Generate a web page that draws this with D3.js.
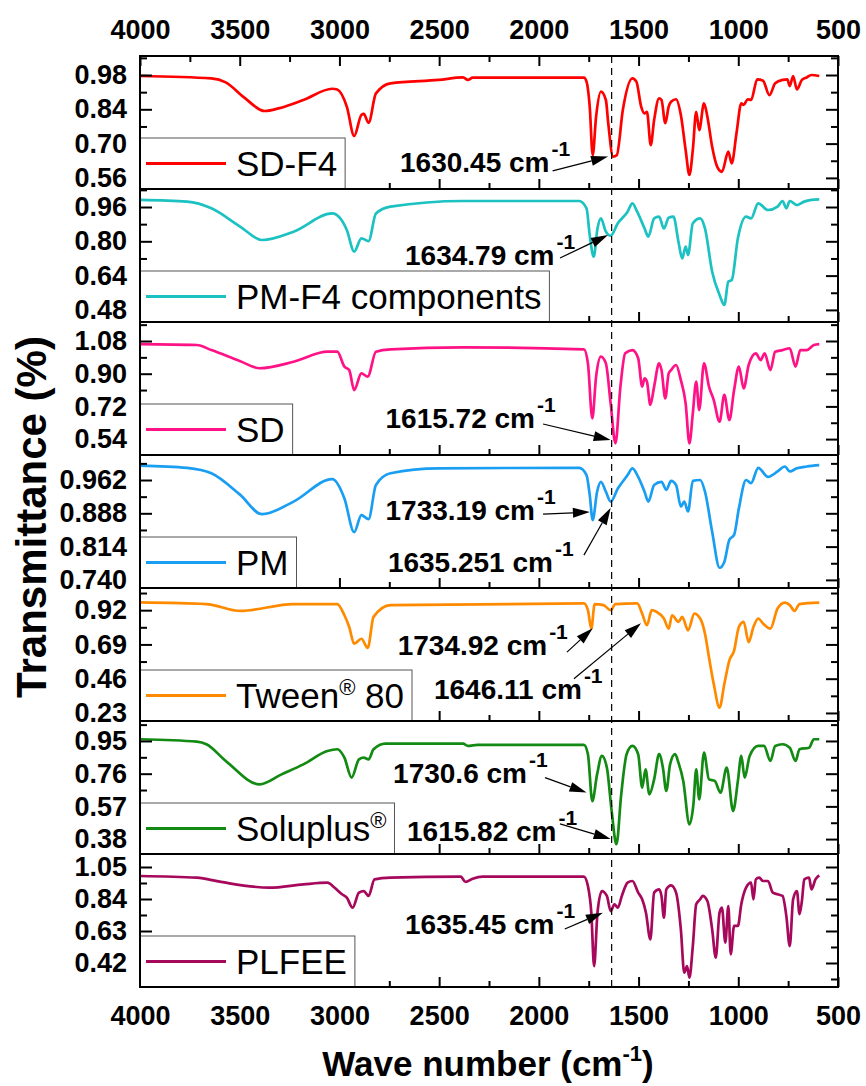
<!DOCTYPE html>
<html><head><meta charset="utf-8">
<script src="https://cdn.jsdelivr.net/npm/d3@7"></script>
<style>body{margin:0;background:#fff} svg{display:block}</style>
</head><body><svg id="c" width="866" height="1086"></svg>
<script>
// ---------------- DATA ----------------
const seriesNames = ["SD-F4", "PM-F4 components", "SD", "PM", "Tween|®| 80", "Soluplus|®|", "PLFEE"];
const seriesColors = ["#ff0000", "#1cc1c1", "#ff1286", "#1a9ef2", "#ff8a00", "#138a13", "#a6085c"];
const xTickValues = [4000, 3500, 3000, 2500, 2000, 1500, 1000, 500];
const yTickValues = [
  [0.98, 0.84, 0.70, 0.56],
  [0.96, 0.80, 0.64, 0.48],
  [1.08, 0.90, 0.72, 0.54],
  [0.962, 0.888, 0.814, 0.740],
  [0.92, 0.69, 0.46, 0.23],
  [0.95, 0.76, 0.57, 0.38],
  [1.05, 0.84, 0.63, 0.42]
];
const yTickLabels = [
  ["0.98", "0.84", "0.70", "0.56"],
  ["0.96", "0.80", "0.64", "0.48"],
  ["1.08", "0.90", "0.72", "0.54"],
  ["0.962", "0.888", "0.814", "0.740"],
  ["0.92", "0.69", "0.46", "0.23"],
  ["0.95", "0.76", "0.57", "0.38"],
  ["1.05", "0.84", "0.63", "0.42"]
];
// [wavenumber (cm-1), transmittance]
const sdF4 = [[4000,0.976],[3642,0.966],[3570,0.95],[3480,0.89],[3375,0.833],[3300,0.845],[3181,0.878],[3036,0.924],[3011,0.921],[2963,0.851],[2926,0.731],[2890,0.817],[2878,0.821],[2854,0.785],[2817,0.905],[2744,0.946],[2502,0.96],[2380,0.97],[2356,0.96],[2332,0.969],[1774,0.969],[1761,0.953],[1745,0.851],[1730,0.653],[1713,0.81],[1689,0.912],[1664,0.878],[1652,0.783],[1628,0.647],[1609,0.653],[1579,0.837],[1531,0.966],[1511,0.953],[1487,0.851],[1470,0.823],[1458,0.83],[1439,0.694],[1422,0.796],[1397,0.885],[1385,0.878],[1366,0.783],[1349,0.851],[1337,0.871],[1312,0.881],[1288,0.817],[1264,0.674],[1245,0.572],[1228,0.674],[1211,0.83],[1196,0.755],[1172,0.864],[1155,0.81],[1131,0.687],[1106,0.606],[1082,0.585],[1050,0.667],[1033,0.619],[1009,0.742],[985,0.864],[973,0.858],[953,0.881],[936,0.878],[905,0.962],[876,0.957],[844,0.898],[815,0.946],[778,0.96],[754,0.962],[742,0.935],[725,0.976],[706,0.921],[681,0.96],[657,0.97],[633,0.98],[594,0.976]];
const pmF4 = [[4000,0.993],[3764,0.985],[3642,0.954],[3500,0.87],[3388,0.806],[3230,0.845],[3036,0.93],[2963,0.853],[2926,0.752],[2890,0.814],[2854,0.801],[2817,0.93],[2744,0.962],[2380,0.988],[1798,0.988],[1761,0.954],[1745,0.829],[1725,0.728],[1706,0.86],[1689,0.907],[1664,0.845],[1640,0.826],[1604,0.884],[1555,0.938],[1531,0.977],[1507,0.938],[1470,0.86],[1451,0.822],[1422,0.907],[1397,0.915],[1373,0.86],[1349,0.91],[1325,0.915],[1300,0.798],[1281,0.72],[1264,0.775],[1252,0.736],[1228,0.884],[1191,0.907],[1167,0.86],[1131,0.658],[1094,0.55],[1070,0.503],[1050,0.612],[1033,0.619],[1002,0.814],[961,0.915],[936,0.907],[900,0.977],[851,0.946],[803,0.962],[778,0.988],[759,0.954],[742,0.988],[706,0.969],[669,0.985],[633,0.993],[594,0.996]];
const sd = [[4000,1.063],[3715,1.058],[3642,1.03],[3500,0.97],[3400,0.93],[3230,0.966],[3060,1.021],[3011,1.021],[2975,0.939],[2951,0.92],[2926,0.81],[2890,0.902],[2858,0.884],[2817,1.021],[2744,1.034],[2380,1.045],[1774,1.034],[1754,0.957],[1732,0.654],[1713,0.884],[1689,0.994],[1664,0.957],[1640,0.737],[1616,0.517],[1591,0.829],[1567,1.012],[1531,1.03],[1502,0.985],[1482,0.829],[1470,0.874],[1458,0.856],[1441,0.728],[1422,0.829],[1397,0.957],[1385,0.92],[1366,0.764],[1349,0.902],[1337,0.92],[1312,0.948],[1288,0.865],[1264,0.737],[1245,0.517],[1228,0.682],[1211,0.856],[1196,0.70],[1172,0.957],[1147,0.829],[1123,0.755],[1094,0.636],[1070,0.783],[1045,0.645],[1021,0.81],[997,0.939],[973,0.819],[948,0.948],[912,1.012],[888,0.975],[868,1.012],[839,0.92],[815,1.021],[778,1.03],[742,1.04],[713,0.939],[689,1.03],[657,1.03],[621,1.058],[594,1.063]];
const pm = [[4000,0.994],[3764,0.989],[3642,0.977],[3500,0.93],[3388,0.886],[3230,0.914],[3036,0.964],[2975,0.921],[2926,0.846],[2890,0.884],[2854,0.875],[2817,0.951],[2744,0.977],[2502,0.988],[1798,0.989],[1761,0.973],[1745,0.929],[1730,0.873],[1708,0.936],[1689,0.958],[1664,0.936],[1640,0.914],[1604,0.943],[1555,0.973],[1531,0.988],[1502,0.969],[1470,0.936],[1451,0.914],[1422,0.951],[1385,0.958],[1361,0.94],[1337,0.96],[1312,0.951],[1288,0.903],[1271,0.914],[1252,0.892],[1228,0.96],[1191,0.962],[1167,0.936],[1131,0.847],[1094,0.767],[1070,0.78],[1045,0.829],[1021,0.84],[997,0.899],[961,0.962],[936,0.955],[900,0.989],[851,0.969],[803,0.981],[766,0.992],[742,0.981],[706,0.988],[657,0.992],[594,0.995]];
const tween = [[4000,0.972],[3667,0.961],[3497,0.915],[3230,0.961],[3011,0.961],[2975,0.886],[2951,0.807],[2926,0.695],[2890,0.728],[2858,0.667],[2829,0.875],[2744,0.954],[1774,0.965],[1754,0.92],[1737,0.796],[1720,0.961],[1676,0.954],[1640,0.92],[1616,0.961],[1507,0.965],[1482,0.897],[1458,0.819],[1434,0.92],[1410,0.909],[1373,0.864],[1349,0.796],[1332,0.886],[1300,0.841],[1281,0.875],[1252,0.785],[1220,0.897],[1191,0.864],[1167,0.762],[1147,0.604],[1123,0.424],[1094,0.266],[1070,0.424],[1045,0.582],[1021,0.649],[997,0.807],[973,0.841],[948,0.706],[924,0.807],[900,0.864],[876,0.83],[839,0.796],[803,0.931],[766,0.97],[742,0.954],[718,0.915],[693,0.961],[594,0.97]];
const soluplus = [[4000,0.96],[3715,0.946],[3667,0.931],[3570,0.834],[3400,0.698],[3290,0.756],[3181,0.814],[3060,0.892],[3011,0.902],[2975,0.853],[2939,0.737],[2902,0.843],[2878,0.853],[2854,0.843],[2829,0.902],[2769,0.935],[2380,0.935],[2356,0.921],[2308,0.927],[1774,0.927],[1754,0.873],[1732,0.601],[1708,0.756],[1684,0.863],[1659,0.795],[1635,0.543],[1611,0.35],[1587,0.64],[1560,0.873],[1531,0.921],[1502,0.873],[1482,0.679],[1465,0.785],[1446,0.64],[1422,0.727],[1397,0.873],[1378,0.795],[1361,0.66],[1342,0.814],[1317,0.873],[1300,0.824],[1276,0.718],[1245,0.466],[1225,0.582],[1211,0.785],[1196,0.611],[1172,0.882],[1147,0.727],[1118,0.718],[1089,0.65],[1058,0.795],[1026,0.543],[1002,0.718],[985,0.863],[968,0.737],[943,0.863],[900,0.921],[871,0.921],[839,0.834],[815,0.921],[778,0.931],[742,0.911],[713,0.834],[693,0.902],[645,0.911],[621,0.96],[594,0.96]];
const plfee = [[4000,0.991],[3715,0.98],[3594,0.952],[3351,0.914],[3181,0.936],[3060,0.947],[3024,0.914],[2987,0.871],[2963,0.849],[2934,0.783],[2902,0.882],[2878,0.892],[2854,0.86],[2824,0.969],[2744,0.98],[2392,0.987],[2368,0.952],[2332,0.973],[2283,0.987],[1774,0.987],[1754,0.925],[1737,0.75],[1723,0.40],[1706,0.75],[1684,0.892],[1659,0.86],[1640,0.761],[1621,0.805],[1604,0.783],[1584,0.86],[1555,0.947],[1531,0.958],[1502,0.882],[1482,0.838],[1463,0.75],[1441,0.575],[1422,0.882],[1397,0.903],[1385,0.86],[1373,0.717],[1361,0.903],[1337,0.93],[1312,0.882],[1288,0.641],[1271,0.356],[1257,0.40],[1245,0.324],[1228,0.531],[1211,0.805],[1191,0.838],[1179,0.86],[1155,0.827],[1131,0.641],[1113,0.455],[1094,0.75],[1082,0.783],[1065,0.553],[1050,0.794],[1038,0.477],[1021,0.663],[1002,0.663],[985,0.805],[961,0.914],[936,0.947],[924,0.838],[912,0.969],[895,0.98],[876,0.958],[851,0.958],[827,0.882],[803,0.871],[778,0.86],[759,0.728],[742,0.531],[725,0.838],[706,0.892],[693,0.741],[681,0.827],[669,0.969],[645,0.98],[633,0.903],[613,0.969],[594,0.995]];
const markerWave = 1635;
// annotations: panel index, label, text start [wave, value], arrow start, arrow tip
const annotPanels = [0, 1, 2, 3, 3, 4, 4, 5, 5, 6];
const annotLabels = ["1630.45 cm", "1634.79 cm", "1615.72 cm", "1733.19 cm", "1635.251 cm", "1734.92 cm", "1646.11 cm", "1730.6 cm", "1615.82 cm", "1635.45 cm"];
const annotText  = [[2696,0.584],[2671,0.689],[2769,0.599],[2769,0.873],[2757,0.758],[2708,0.616],[2526,0.325],[2731,0.708],[2661,0.369],[2671,0.61]];
const annotFrom  = [[1931,0.589],[1894,0.722],[1979,0.623],[1979,0.886],[1774,0.795],[1859,0.638],[1824,0.46],[1969,0.737],[1894,0.468],[1870,0.643]];
const annotTo    = [[1653,0.647],[1653,0.829],[1640,0.535],[1744,0.891],[1640,0.90],[1730,0.798],[1488,0.832],[1761,0.65],[1640,0.381],[1679,0.75]];

// ---------------- DRAW ----------------
const FONT = "'Liberation Sans', Arial, Helvetica, sans-serif";
const L = 140, R = 838, TOP = 56, BOT = 987;
const nP = 7, pH = (BOT - TOP) / nP;
const yDomains = [[0.5147,1.0576],[0.4236,1.044],[0.4525,1.1846],[0.722,1.0176],[0.176,1.0688],[0.2934,1.066],[0.2625,1.1353]];
const panelData = [sdF4, pmF4, sd, pm, tween, soluplus, plfee];
const svg = d3.select("#c").style("font-family", FONT);
const x = d3.scaleLinear().domain([4000, 500]).range([L, R]);
const xMinor = d3.range(3750, 500, -500);
const yScales = [];

function styleAxis(g) {
  g.select(".domain").remove();
  g.selectAll(".tick line").attr("stroke", "#000").attr("stroke-width", 2);
  g.selectAll(".tick text").attr("font-family", FONT).attr("font-weight", "bold").attr("font-size", 27).attr("fill", "#000");
}

const defs = svg.append("defs");
panelData.forEach((data, i) => {
  const T = TOP + i * pH, B = T + pH;
  const y = d3.scaleLinear().domain(yDomains[i]).range([B, T]);
  yScales.push(y);
  defs.append("clipPath").attr("id", "clip" + i).append("rect")
    .attr("x", L).attr("y", T).attr("width", R - L).attr("height", pH);
  const g = svg.append("g");
  const line = d3.line().x(d => x(d[0])).y(d => y(d[1])).curve(d3.curveMonotoneX);
  g.append("path").datum(data).attr("clip-path", `url(#clip${i})`)
    .attr("fill", "none").attr("stroke", seriesColors[i]).attr("stroke-width", 2.7)
    .attr("stroke-linejoin", "round").attr("d", line);

  const majors = yTickValues[i];
  const step = majors[0] - majors[1];
  const minors = d3.range(-1, 4).map(k => majors[0] - step * (k + 0.5))
    .filter(v => v > yDomains[i][0] && v < yDomains[i][1]);
  g.append("g").attr("transform", `translate(${L},0)`)
    .call(d3.axisLeft(y).tickValues(majors).tickSize(-12).tickPadding(13)
      .tickFormat((d, k) => yTickLabels[i][k])).call(styleAxis);
  g.append("g").attr("transform", `translate(${L},0)`)
    .call(d3.axisLeft(y).tickValues(minors).tickSize(-7).tickFormat("")).call(styleAxis);
  g.append("g").attr("transform", `translate(${R},0)`)
    .call(d3.axisRight(y).tickValues(majors).tickSize(-12).tickFormat("")).call(styleAxis);
  g.append("g").attr("transform", `translate(${R},0)`)
    .call(d3.axisRight(y).tickValues(minors).tickSize(-7).tickFormat("")).call(styleAxis);
  const isLast = i === nP - 1;
  g.append("g").attr("transform", `translate(0,${B})`)
    .call(d3.axisBottom(x).tickValues(xTickValues).tickSize(-10).tickPadding(19)
      .tickFormat(isLast ? d3.format("d") : "")).call(styleAxis);
  g.append("g").attr("transform", `translate(0,${B})`)
    .call(d3.axisBottom(x).tickValues(xMinor).tickSize(-6).tickFormat("")).call(styleAxis);
  if (i === 0) {
    g.append("g").attr("transform", `translate(0,${T})`)
      .call(d3.axisTop(x).tickValues(xTickValues).tickSize(-10).tickPadding(17)
        .tickFormat(d3.format("d"))).call(styleAxis);
    g.append("g").attr("transform", `translate(0,${T})`)
      .call(d3.axisTop(x).tickValues(xMinor).tickSize(-6).tickFormat("")).call(styleAxis);
  }

  // legend
  const lg = svg.append("g").attr("class", "legend");
  const boxH = 51, ly = B - boxH / 2;
  const box = lg.append("rect").attr("x", L).attr("y", B - boxH).attr("height", boxH)
    .attr("fill", "#fff").attr("stroke", "#555").attr("stroke-width", 1);
  lg.append("line").attr("x1", L + 6).attr("x2", L + 86).attr("y1", ly).attr("y2", ly)
    .attr("stroke", seriesColors[i]).attr("stroke-width", 3);
  const txt = lg.append("text").attr("x", L + 96).attr("y", ly + 12)
    .attr("font-size", 35).attr("fill", "#000");
  seriesNames[i].split("|").forEach((part, k) => {
    if (k % 2 === 1) {
      txt.append("tspan").attr("font-size", 22).attr("dy", -13).text(part);
    } else {
      const t = txt.append("tspan").text(part);
      if (k > 0) t.attr("dy", 13);
    }
  });
  const tw = txt.node().getBBox();
  box.attr("width", tw.x + tw.width + 8 - L);
  svg.append("rect").attr("x", L).attr("y", T).attr("width", R - L).attr("height", pH)
    .attr("fill", "none").attr("stroke", "#000").attr("stroke-width", 2);
});

svg.append("line").attr("x1", x(markerWave)).attr("x2", x(markerWave))
  .attr("y1", TOP).attr("y2", BOT).attr("stroke", "#000").attr("stroke-width", 1.2)
  .attr("stroke-dasharray", "7,5");

annotLabels.forEach((lab, k) => {
  const y = yScales[annotPanels[k]];
  const t = svg.append("text").attr("x", x(annotText[k][0])).attr("y", y(annotText[k][1]))
    .attr("font-size", 28).attr("font-weight", "bold").attr("fill", "#000");
  t.append("tspan").text(lab);
  t.append("tspan").attr("font-size", 21).attr("dy", -16).attr("dx", 2).text("-1");
  const x1 = x(annotFrom[k][0]), y1 = y(annotFrom[k][1]);
  const x2 = x(annotTo[k][0]), y2 = y(annotTo[k][1]);
  const ang = Math.atan2(y2 - y1, x2 - x1);
  const hl = 17, hw = 5;
  const bx = x2 - hl * Math.cos(ang), by = y2 - hl * Math.sin(ang);
  svg.append("line").attr("x1", x1).attr("y1", y1).attr("x2", bx).attr("y2", by)
    .attr("stroke", "#000").attr("stroke-width", 1.2);
  const px = -Math.sin(ang) * hw, py = Math.cos(ang) * hw;
  svg.append("path").attr("d", `M${x2},${y2}L${bx + px},${by + py}L${bx - px},${by - py}Z`)
    .attr("fill", "#000");
});

svg.append("text").attr("transform", `translate(46,517) rotate(-90)`)
  .attr("text-anchor", "middle").attr("font-size", 42).attr("font-weight", "bold")
  .text("Transmittance (%)");
const xt = svg.append("text").attr("x", 488).attr("y", 1076).attr("text-anchor", "middle")
  .attr("font-size", 35).attr("font-weight", "bold");
xt.append("tspan").text("Wave number (cm");
xt.append("tspan").attr("font-size", 22).attr("dy", -15).text("-1");
xt.append("tspan").attr("dy", 15).text(")");
</script></body></html>
